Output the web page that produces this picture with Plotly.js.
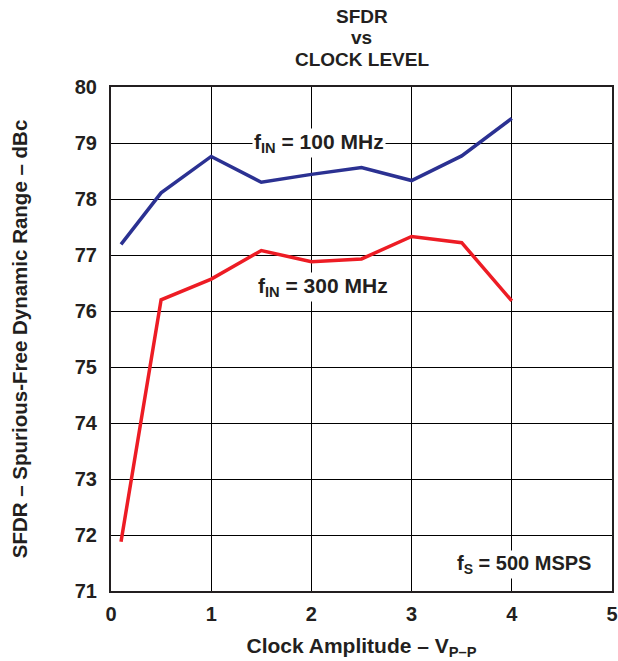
<!DOCTYPE html>
<html><head><meta charset="utf-8">
<script src="https://cdn.plot.ly/plotly-3.0.1.min.js"></script>
<style>body{margin:0;background:#fff}#c{width:618px;height:661px}</style>
</head><body><div id="c"></div>
<script>
const clockAmp = [0.1, 0.5, 1, 1.5, 2, 2.5, 3, 3.5, 4];
const sfdr100 = [77.19, 78.11, 78.76, 78.30, 78.44, 78.56, 78.33, 78.77, 79.44];
const sfdr300 = [71.88, 76.20, 76.57, 77.08, 76.88, 76.93, 77.33, 77.22, 76.18];
const xTicks = [0, 1, 2, 3, 4, 5];
const yTicks = [71, 72, 73, 74, 75, 76, 77, 78, 79, 80];
const titleLines = ['SFDR', 'vs', 'CLOCK LEVEL'];

const F = 'Liberation Sans, Arial, sans-serif';
const C = '#231F20';
const data = [
  {x: clockAmp, y: sfdr100, mode: 'lines', line: {color: '#2B3192', width: 3.5}, name: '100 MHz'},
  {x: clockAmp, y: sfdr300, mode: 'lines', line: {color: '#ED1C24', width: 3.5}, name: '300 MHz'}
];
const ax = {showline: true, mirror: true, linecolor: C, linewidth: 2, showgrid: true, gridcolor: '#000', gridwidth: 1, zeroline: false, ticks: '', ticklabeloverflow: 'allow', tickfont: {family: F, size: 20, color: C, weight: 'bold'}};
const titleY = [1.139, 1.098, 1.055];
const annots = titleLines.map((t, i) => ({xref: 'paper', yref: 'paper', x: 0.5, y: titleY[i], yanchor: 'middle', text: '<b>' + t + '</b>', showarrow: false, font: {family: F, size: 19, color: C}}));
annots.push(
  {x: 2.08, y: 79, text: '<b>f<sub>IN</sub> = 100 MHz</b>', showarrow: false, bgcolor: '#fff', font: {family: F, size: 21, color: C}},
  {x: 2.12, y: 76.42, text: '<b>f<sub>IN</sub> = 300 MHz</b>', showarrow: false, bgcolor: '#fff', font: {family: F, size: 21, color: C}},
  {x: 4.12, y: 71.48, text: '<b>f<sub>S</sub> = 500 MSPS</b>', showarrow: false, bgcolor: '#fff', font: {family: F, size: 20, color: C}}
);
const layout = {
  width: 618, height: 661,
  margin: {l: 111, r: 6, t: 87, b: 70},
  paper_bgcolor: '#fff', plot_bgcolor: '#fff',
  showlegend: false,
  xaxis: Object.assign({}, ax, {range: [0, 5], tickvals: xTicks, ticktext: xTicks.map(String), ticklabelstandoff: 4,
    title: {text: '<b>Clock Amplitude – V<sub>P–P</sub></b>', font: {family: F, size: 21, color: C}, standoff: 14}}),
  yaxis: Object.assign({}, ax, {range: [71, 80], tickvals: yTicks, ticktext: yTicks.map(String), ticklabelstandoff: 8,
    title: {text: '<b>SFDR – Spurious-Free Dynamic Range – dBc</b>', font: {family: F, size: 20.5, color: C}, standoff: 42}}),
  annotations: annots
};
Plotly.newPlot('c', data, layout, {displayModeBar: false, staticPlot: true});
</script></body></html>
